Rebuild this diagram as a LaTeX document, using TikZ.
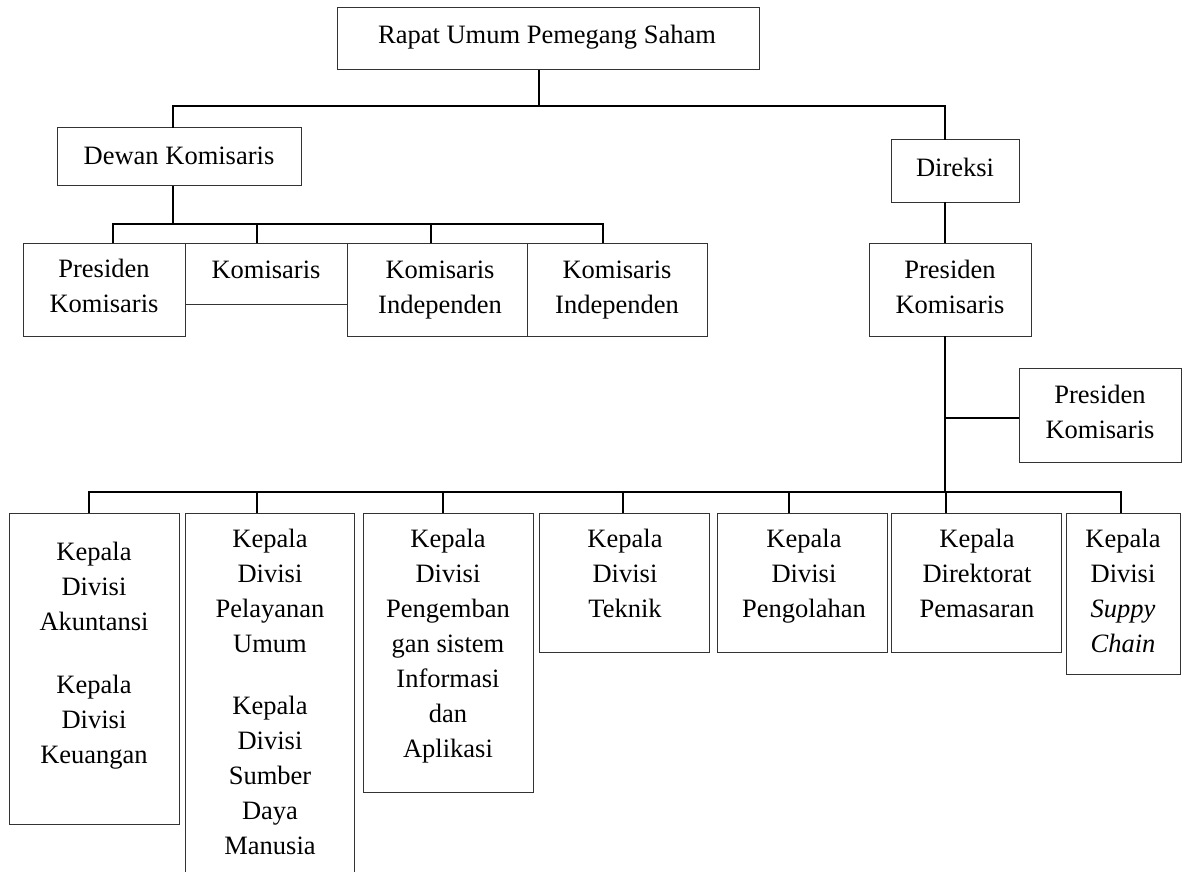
\documentclass[tikz,border=0pt]{standalone}
\usepackage{fontspec}
\setmainfont{Liberation Serif}
\begin{document}
\begin{tikzpicture}[x=1pt,y=-1pt,
  bx/.style={draw=black!80, line width=1pt, rectangle, inner sep=0pt, outer sep=0pt, anchor=north west},
  lbl/.style={font=\fontsize{26.5}{35}\selectfont, align=center, inner sep=0pt, anchor=base},
  conn/.style={draw=black, line width=1.6pt}]
\newcommand\orgbox[5]{\node[bx, minimum width=#4pt, minimum height=#5pt] (#1) at (#2,#3) {};}
\useasboundingbox (0,0) rectangle (1184,872);
\fill[white] (0,0) rectangle (1184,872);
\clip (0,0) rectangle (1184,872);

% boxes
\orgbox{rups}{337}{8}{422}{62}
\orgbox{dewan}{57}{128}{244}{58}
\orgbox{direksi}{891}{140}{128}{62}
\orgbox{pk1}{23}{243}{162}{93}
\orgbox{kom}{185}{243}{162}{61}
\orgbox{ki1}{347}{243}{180}{93}
\orgbox{ki2}{527}{243}{180}{93}
\orgbox{pkd}{869}{243}{162}{93}
\orgbox{pks}{1019}{368}{162}{94}
\orgbox{d1}{9}{513}{170}{311}
\orgbox{d2}{185}{513}{169}{380}
\orgbox{d3}{363}{513}{170}{279}
\orgbox{d4}{539}{513}{170}{139}
\orgbox{d5}{717}{513}{170}{139}
\orgbox{d6}{891}{513}{170}{139}
\orgbox{d7}{1066}{513}{114}{161}

% texts (placed by the baseline of their last line)
\node[lbl] (rupsT) at (547,44) {Rapat Umum Pemegang Saham};
\node[lbl] (dewanT) at (179,165) {Dewan Komisaris};
\node[lbl] (direksiT) at (955,177) {Direksi};
\node[lbl] (pk1T) at (104,312) {Presiden\\Komisaris};
\node[lbl] (komT) at (266,278) {Komisaris};
\node[lbl] (ki1T) at (440,313) {Komisaris\\Independen};
\node[lbl] (ki2T) at (617,313) {Komisaris\\Independen};
\node[lbl] (pkdT) at (950,313) {Presiden\\Komisaris};
\node[lbl] (pksT) at (1100,438) {Presiden\\Komisaris};
\node[lbl] (d1T) at (94,763) {Kepala\\Divisi\\Akuntansi\\[28pt]Kepala\\Divisi\\Keuangan};
\node[lbl] (d2T) at (270,854) {Kepala\\Divisi\\Pelayanan\\Umum\\[27pt]Kepala\\Divisi\\Sumber\\Daya\\Manusia};
\node[lbl] (d3T) at (448,757) {Kepala\\Divisi\\Pengemban\\gan sistem\\Informasi\\dan\\Aplikasi};
\node[lbl] (d4T) at (625,617) {Kepala\\Divisi\\Teknik};
\node[lbl] (d5T) at (804,617) {Kepala\\Divisi\\Pengolahan};
\node[lbl] (d6T) at (977,617) {Kepala\\Direktorat\\Pemasaran};
\node[lbl] (d7T) at (1123,652) {Kepala\\Divisi\\\textit{Suppy}\\\textit{Chain}};

% connectors: shareholders to the two boards
\coordinate (j1) at (539,106);
\draw[conn] ([xshift=-9pt]rups.south) -- (j1);
\draw[conn] ([xshift=-6pt]dewan.north) |- (j1);
\draw[conn] ([xshift=-10pt]direksi.north) |- (j1);

% board of commissioners
\coordinate (j2) at (173,224);
\draw[conn] ([xshift=-6pt]dewan.south) -- (j2);
\draw[conn] ([xshift=9pt]pk1.north) |- (j2);
\draw[conn] ([xshift=-9pt]kom.north) |- (j2);
\draw[conn] ([xshift=-6pt]ki1.north) |- (j2);
\draw[conn] ([xshift=-14pt]ki2.north) |- (j2);

% directors and divisions
\draw[conn] ([xshift=-10pt]direksi.south) -- ([xshift=-5pt]pkd.north);
\coordinate (j3) at (945,492);
\draw[conn] ([xshift=-5pt]pkd.south) -- (j3);
\draw[conn] ([yshift=-3pt]pks.west) -- ([yshift=-3pt]pks.west -| j3);
\draw[conn] ([xshift=-5pt]d1.north) |- (j3);
\draw[conn] ([xshift=-12.5pt]d2.north) |- (j3);
\draw[conn] ([xshift=-5pt]d3.north) |- (j3);
\draw[conn] ([xshift=-1pt]d4.north) |- (j3);
\draw[conn] ([xshift=-13pt]d5.north) |- (j3);
\draw[conn] ([xshift=-30pt]d6.north) |- (j3);
\draw[conn] ([xshift=-2pt]d7.north) |- (j3);
\end{tikzpicture}
\end{document}
